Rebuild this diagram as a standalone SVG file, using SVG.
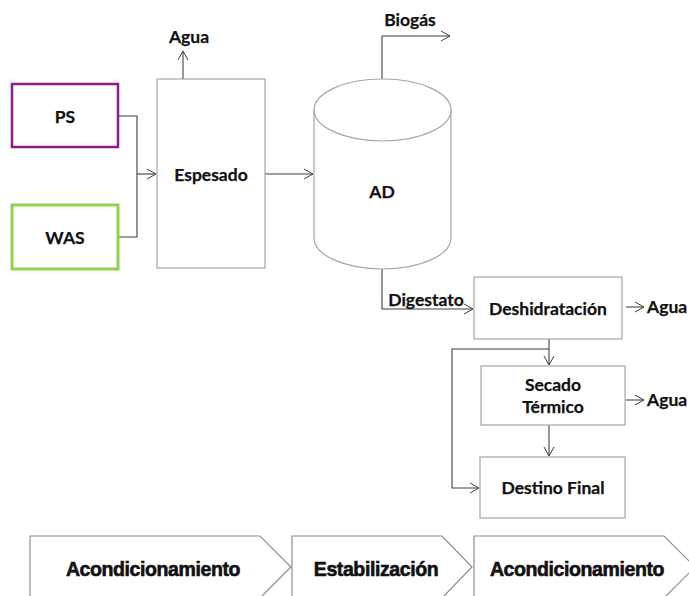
<svg xmlns="http://www.w3.org/2000/svg" width="689" height="596" viewBox="0 0 689 596">
<defs>
<marker id="arr" markerUnits="userSpaceOnUse" markerWidth="12" markerHeight="12" refX="10" refY="6" orient="auto">
<path d="M1,1 L10,6 L1,11" fill="none" stroke="#404040" stroke-width="1"/>
</marker>
<style>
.box{fill:#fff;stroke:#a6a6a6;stroke-width:1.2}
.lbl{font-family:Lato,"Liberation Sans",sans-serif;font-weight:bold;font-size:17.5px;fill:#111;stroke:#111;stroke-width:0.25;text-anchor:middle}
.side{font-family:Lato,"Liberation Sans",sans-serif;font-weight:bold;font-size:17.5px;fill:#111;stroke:#111;stroke-width:0.25}
.con{fill:none;stroke:#404040;stroke-width:1.1}
.chev{fill:#fff;stroke:#8c8c8c;stroke-width:1.2}
.ph{font-family:"Liberation Sans",Arial,sans-serif;font-weight:bold;font-size:19.5px;fill:#111;stroke:#111;stroke-width:0.6;text-anchor:middle;letter-spacing:-0.4px}
</style>
</defs>
<rect width="689" height="596" fill="#fff"/>
<g id="connectors">
<polyline class="con" points="118,116 137,116 137,237 118,237"/>
<line class="con" x1="137" y1="174" x2="156" y2="174" marker-end="url(#arr)"/>
<line class="con" x1="183" y1="79" x2="183" y2="51" marker-end="url(#arr)"/>
<line class="con" x1="265" y1="174" x2="313" y2="174" marker-end="url(#arr)"/>
<polyline class="con" points="382,79 382,36 450,36" marker-end="url(#arr)"/>
<polyline class="con" points="382,269 382,309 473,309" marker-end="url(#arr)"/>
<line class="con" x1="626" y1="307" x2="644" y2="307" marker-end="url(#arr)"/>
<line class="con" x1="549" y1="339" x2="549" y2="365" marker-end="url(#arr)"/>
<polyline class="con" points="549,349 452,349 452,488 479,488" marker-end="url(#arr)"/>
<line class="con" x1="626" y1="400" x2="644" y2="400" marker-end="url(#arr)"/>
<line class="con" x1="549" y1="425" x2="549" y2="456" marker-end="url(#arr)"/>
</g>
<g id="PS">
<rect x="12" y="84" width="106" height="63" fill="#fff" stroke="#8e1b8e" stroke-width="2.5"/>
<text class="lbl" x="65" y="123">PS</text>
</g>
<g id="WAS">
<rect x="12" y="205" width="106" height="64" fill="#fff" stroke="#92d050" stroke-width="3"/>
<text class="lbl" x="65" y="244">WAS</text>
</g>
<g id="Espesado">
<rect class="box" x="157" y="79" width="108" height="189"/>
<text class="lbl" x="211" y="181">Espesado</text>
</g>
<g id="AguaTop">
<text class="lbl" x="189" y="43">Agua</text>
</g>
<g id="AD">
<path class="box" d="M314,110 L314,238 A68.5,31 0 0 0 451,238 L451,110"/>
<ellipse class="box" cx="382.5" cy="110" rx="68.5" ry="31"/>
<text class="lbl" x="382" y="198">AD</text>
</g>
<g id="Biogas">
<text class="lbl" x="410" y="26">Biogás</text>
</g>
<g id="Digestato">
<text class="lbl" x="426" y="306">Digestato</text>
</g>
<g id="Deshidratacion">
<rect class="box" x="474" y="277" width="148" height="62"/>
<text class="lbl" x="548" y="315">Deshidratación</text>
</g>
<g id="Agua1">
<text class="side" x="647" y="313">Agua</text>
</g>
<g id="SecadoTermico">
<rect class="box" x="481" y="366" width="144" height="59"/>
<text class="lbl" x="553" y="391">Secado</text>
<text class="lbl" x="553" y="413">Térmico</text>
</g>
<g id="Agua2">
<text class="side" x="647" y="406">Agua</text>
</g>
<g id="DestinoFinal">
<rect class="box" x="480" y="457" width="145" height="61"/>
<text class="lbl" x="553" y="494">Destino Final</text>
</g>
<g id="fase1">
<polygon class="chev" points="30,600 30,536 260,536 291,567 260,598"/>
<text class="ph" x="153" y="576">Acondicionamiento</text>
</g>
<g id="fase2">
<polygon class="chev" points="292,600 292,536 442,536 472,567 442,598"/>
<text class="ph" x="376" y="576">Estabilización</text>
</g>
<g id="fase3">
<polygon class="chev" points="474,600 474,536 664,536 695,567 664,598"/>
<text class="ph" x="577" y="576">Acondicionamiento</text>
</g>
</svg>
